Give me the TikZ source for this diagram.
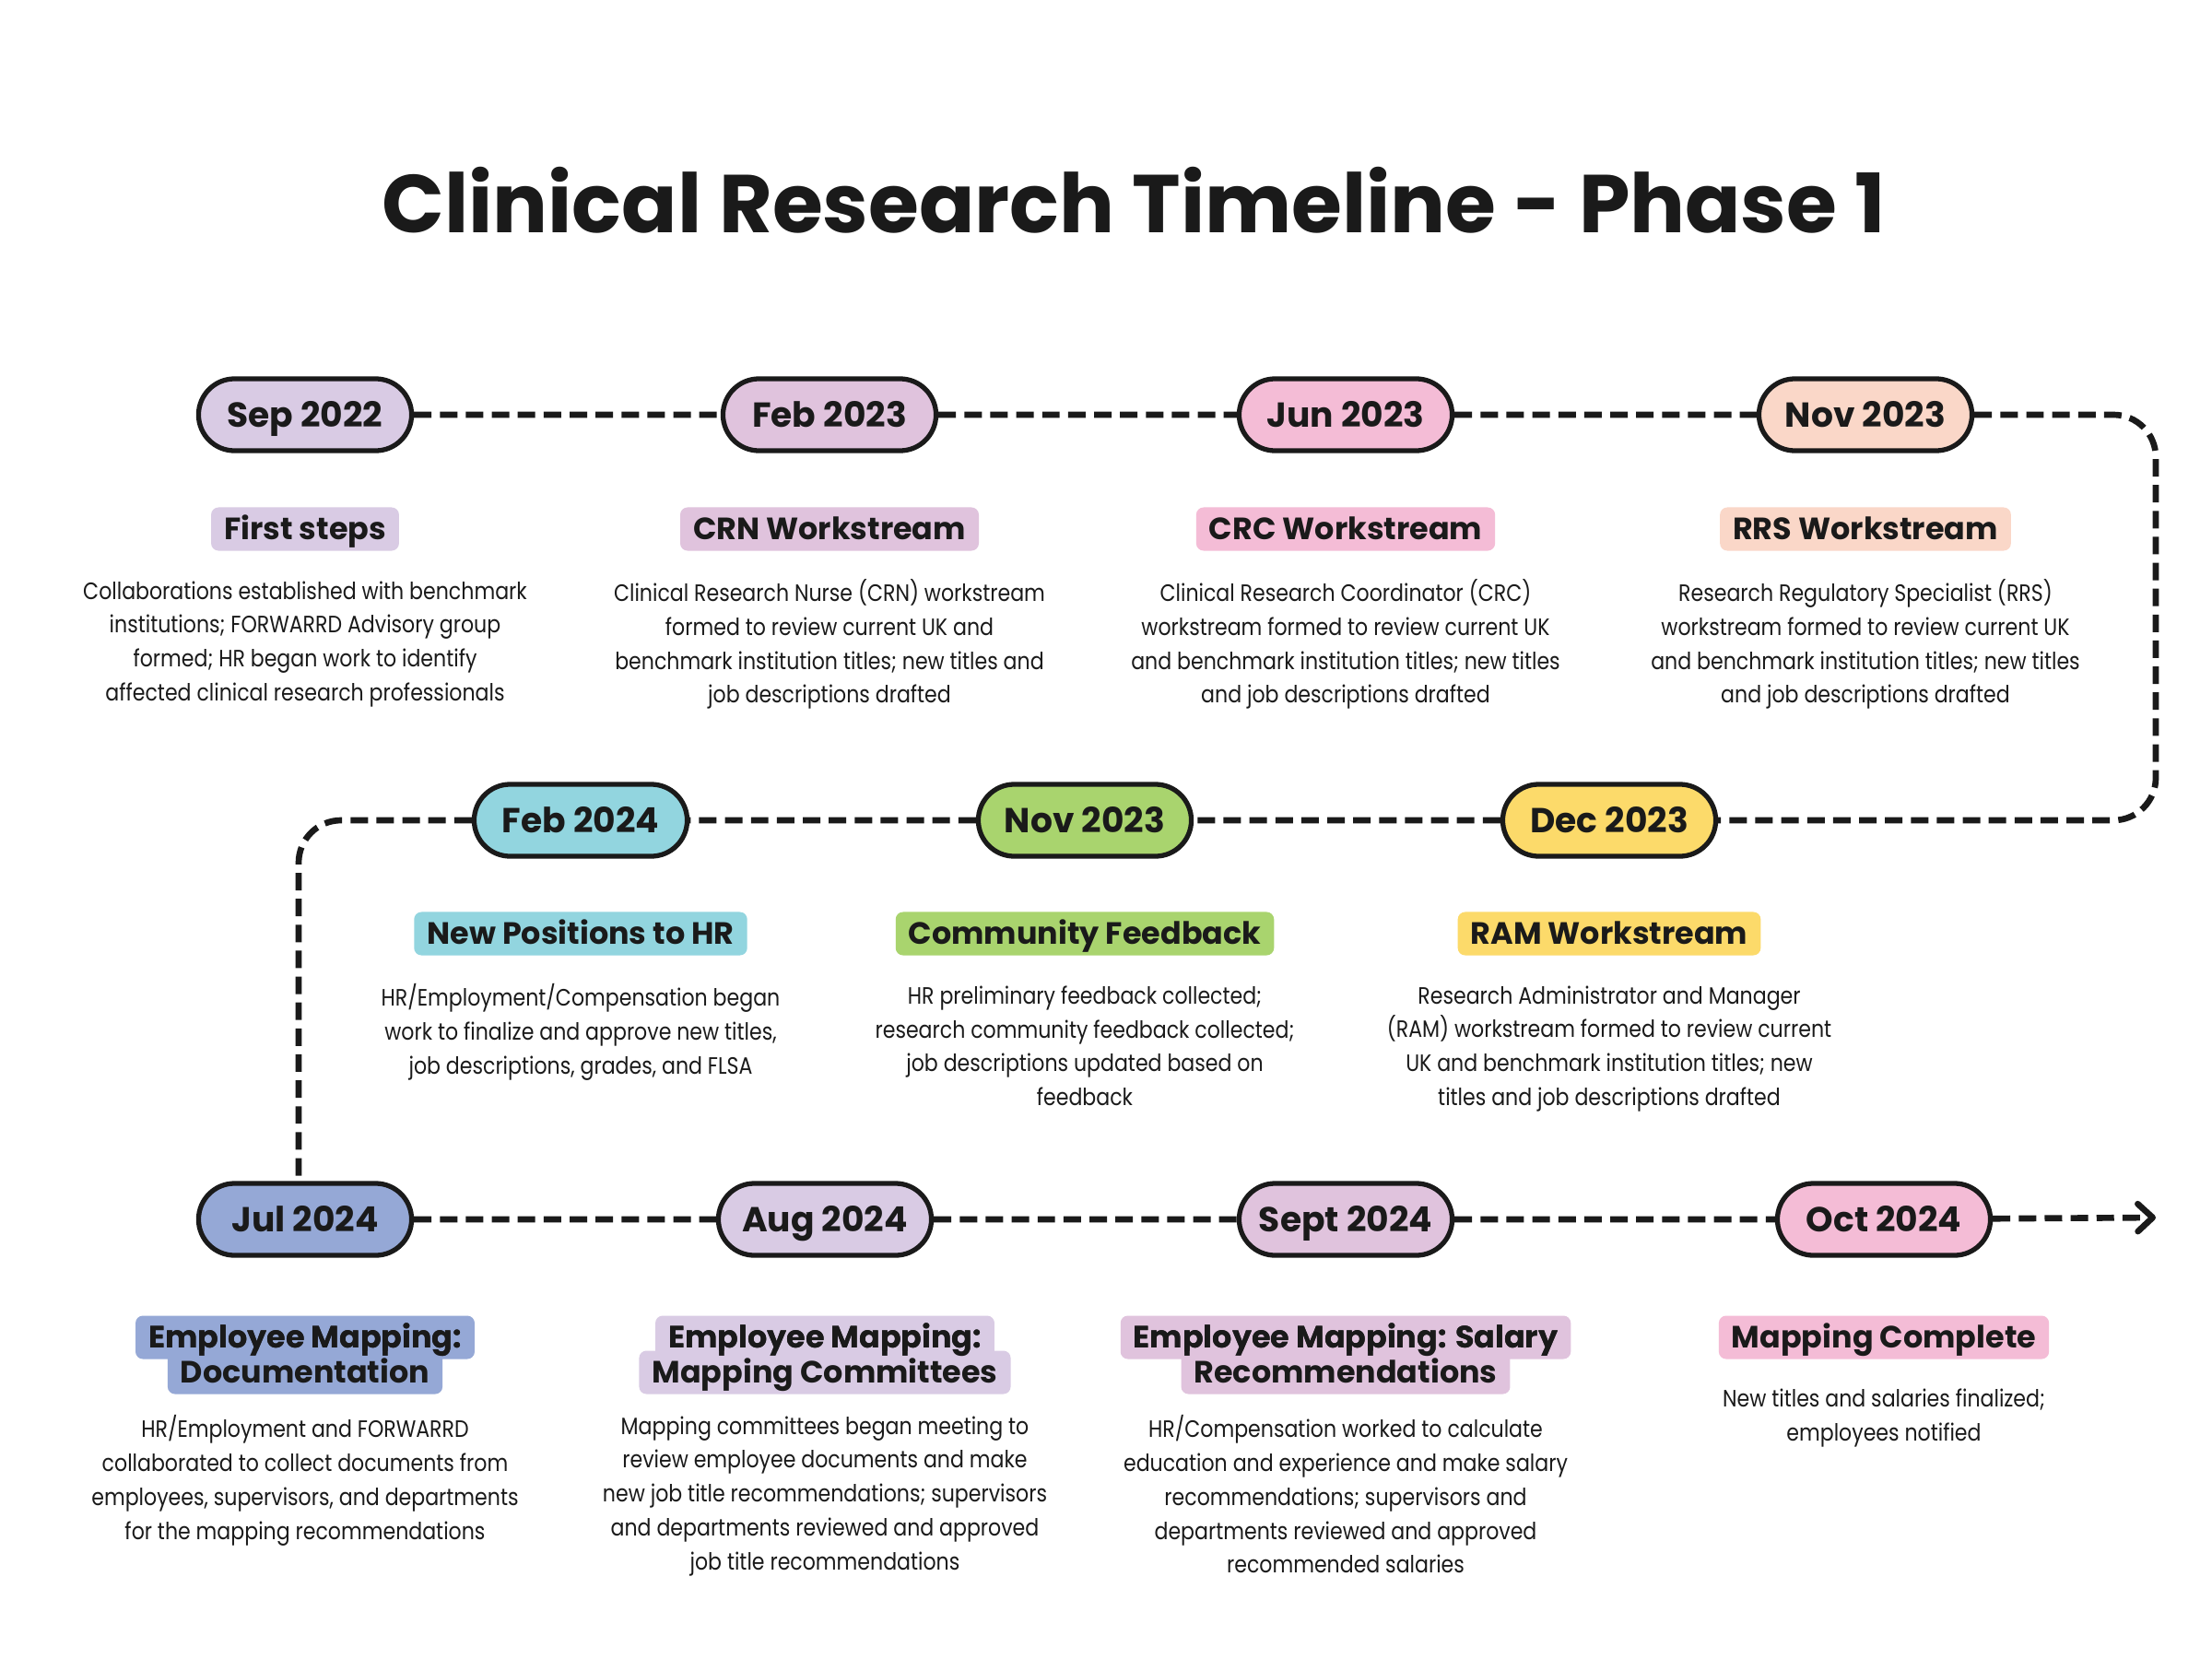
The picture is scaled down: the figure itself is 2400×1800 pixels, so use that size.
\documentclass[tikz,border=0pt]{standalone}
\usepackage{fontspec}
\setmainfont{Poppins}
\newfontfamily\bodyfont{Poppins}[FakeStretch=0.86]
\usetikzlibrary{shapes.misc,arrows.meta,calc}
\definecolor{ink}{HTML}{1A1A1A}
\definecolor{cLav}{HTML}{D9CBE4}
\definecolor{cMauve}{HTML}{E0C3DD}
\definecolor{cPink}{HTML}{F4BCD6}
\definecolor{cPeach}{HTML}{FAD7C8}
\definecolor{cTeal}{HTML}{92D5DF}
\definecolor{cGreen}{HTML}{A9D46E}
\definecolor{cYellow}{HTML}{FCDA6A}
\definecolor{cBlue}{HTML}{95A8D6}
\begin{document}
\begin{tikzpicture}[x=0.01cm,y=-0.01cm,
  pill/.style={rounded rectangle, draw=ink, line width=1.5pt, minimum width=2.31cm, minimum height=0.78cm, inner sep=0pt, font=\fontsize{10.7}{12}\selectfont\bfseries, text=ink, text height=7.5pt, text depth=0pt},
  hdr/.style={rounded corners=0.08cm, inner xsep=0.14cm, inner ysep=0pt, minimum height=0.47cm, font=\fontsize{9.5}{11}\selectfont\bfseries, text=ink, text height=6.6pt, text depth=0pt},
  body/.style={align=center, anchor=north, inner sep=0pt, font=\bodyfont\fontsize{7.3}{10.44}\selectfont, text=ink},
  tl/.style={draw=ink, line width=1.9pt, dash pattern=on 5.4pt off 2.6pt}
]
\path[fill=white] (0,0) rectangle (2400,1800);

\node[font=\fontsize{25.3}{30}\selectfont\bfseries, text=ink] (title) at (1230,217) {Clinical Research Timeline - Phase 1};

\coordinate (c1) at (2339,450);
\coordinate (c2) at (2339,890);
\coordinate (c3) at (324,890);
\coordinate (arrowend) at (2339,1321);

% row 1 pills
\node[pill, fill=cLav]    (p1) at (331,450)  {Sep 2022};
\node[pill, fill=cMauve]  (p2) at (900,450)  {Feb 2023};
\node[pill, fill=cPink]   (p3) at (1460,450) {Jun 2023};
\node[pill, fill=cPeach]  (p4) at (2024,450) {Nov 2023};
% row 2 pills
\node[pill, fill=cTeal]   (p5) at (630,890)  {Feb 2024};
\node[pill, fill=cGreen]  (p6) at (1177,890) {Nov 2023};
\node[pill, fill=cYellow] (p7) at (1746,890) {Dec 2023};
% row 3 pills
\node[pill, fill=cBlue]   (p8) at (331,1323)  {Jul 2024};
\node[pill, fill=cLav]    (p9) at (895,1323)  {Aug 2024};
\node[pill, fill=cMauve]  (p10) at (1460,1323) {Sept 2024};
\node[pill, fill=cPink]   (p11) at (2044,1323) {Oct 2024};

\draw[tl] (p1) -- (p2);
\draw[tl] (p2) -- (p3);
\draw[tl] (p3) -- (p4);
\draw[tl, rounded corners=0.46cm] (p4) -- (c1) -- (c2) -- (p7);
\draw[tl] (p7) -- (p6);
\draw[tl] (p6) -- (p5);
\draw[tl, rounded corners=0.46cm] (p5) -- (c3) -- (c3 |- p8.north);
\draw[tl] (p8) -- (p9);
\draw[tl] (p9) -- (p10);
\draw[tl] (p10) -- (p11);
\draw[tl, -{Straight Barb[length=4.6pt, width=8.5pt, round]}] (p11) -- (arrowend);

% headers
\node[hdr, fill=cLav]    (h1) at (331,574)  {First steps};
\node[hdr, fill=cMauve]  (h2) at (900,574)  {CRN Workstream};
\node[hdr, fill=cPink]   (h3) at (1460,574) {CRC Workstream};
\node[hdr, fill=cPeach]  (h4) at (2024,574) {RRS Workstream};
\node[hdr, fill=cTeal]   (h5) at (630,1013)  {New Positions to HR};
\node[hdr, fill=cGreen]  (h6) at (1177,1013) {Community Feedback};
\node[hdr, fill=cYellow] (h7) at (1746,1013) {RAM Workstream};
\node[hdr, fill=cBlue]   (h8a) at (331,1451) {Employee Mapping:};
\node[hdr, fill=cBlue]   (h8b) at (331,1489) {Documentation};
\node[hdr, fill=cLav]    (h9a) at (895,1451) {Employee Mapping:};
\node[hdr, fill=cLav]    (h9b) at (895,1489) {Mapping Committees};
\node[hdr, fill=cMauve]  (h10a) at (1460,1451) {Employee Mapping: Salary};
\node[hdr, fill=cMauve]  (h10b) at (1460,1489) {Recommendations};
\node[hdr, fill=cPink]   (h11) at (2044,1451) {Mapping Complete};
% redraw text of the two-line headers on top of the overlapping fills
\node[hdr] at (h8a) {Employee Mapping:};
\node[hdr] at (h9a) {Employee Mapping:};
\node[hdr] at (h10a) {Employee Mapping: Salary};

% body texts
\node[body] (b1) at (331,630) {Collaborations established with benchmark\\institutions; FORWARRD Advisory group\\formed; HR began work to identify\\affected clinical research professionals};
\node[body] (b2) at (900,628) {Clinical Research Nurse (CRN) workstream\\formed to review current UK and\\benchmark institution titles; new titles and\\job descriptions drafted};
\node[body] (b3) at (1460,628) {Clinical Research Coordinator (CRC)\\workstream formed to review current UK\\and benchmark institution titles; new titles\\and job descriptions drafted};
\node[body] (b4) at (2024,628) {Research Regulatory Specialist (RRS)\\workstream formed to review current UK\\and benchmark institution titles; new titles\\and job descriptions drafted};
\node[body] (b5) at (630,1067) {HR/Employment/Compensation began\\work to finalize and approve new titles,\\job descriptions, grades, and FLSA};
\node[body] (b6) at (1177,1069) {HR preliminary feedback collected;\\research community feedback collected;\\job descriptions updated based on\\feedback};
\node[body] (b7) at (1746,1069) {Research Administrator and Manager\\(RAM) workstream formed to review current\\UK and benchmark institution titles; new\\titles and job descriptions drafted};
\node[body] (b8) at (331,1535) {HR/Employment and FORWARRD\\collaborated to collect documents from\\employees, supervisors, and departments\\for the mapping recommendations};
\node[body] (b9) at (895,1536) {Mapping committees began meeting to\\review employee documents and make\\new job title recommendations; supervisors\\and departments reviewed and approved\\job title recommendations};
\node[body] (b10) at (1460,1535) {HR/Compensation worked to calculate\\education and experience and make salary\\recommendations; supervisors and\\departments reviewed and approved\\recommended salaries};
\node[body] (b11) at (2044,1506) {New titles and salaries finalized;\\employees notified};
\end{tikzpicture}
\end{document}
